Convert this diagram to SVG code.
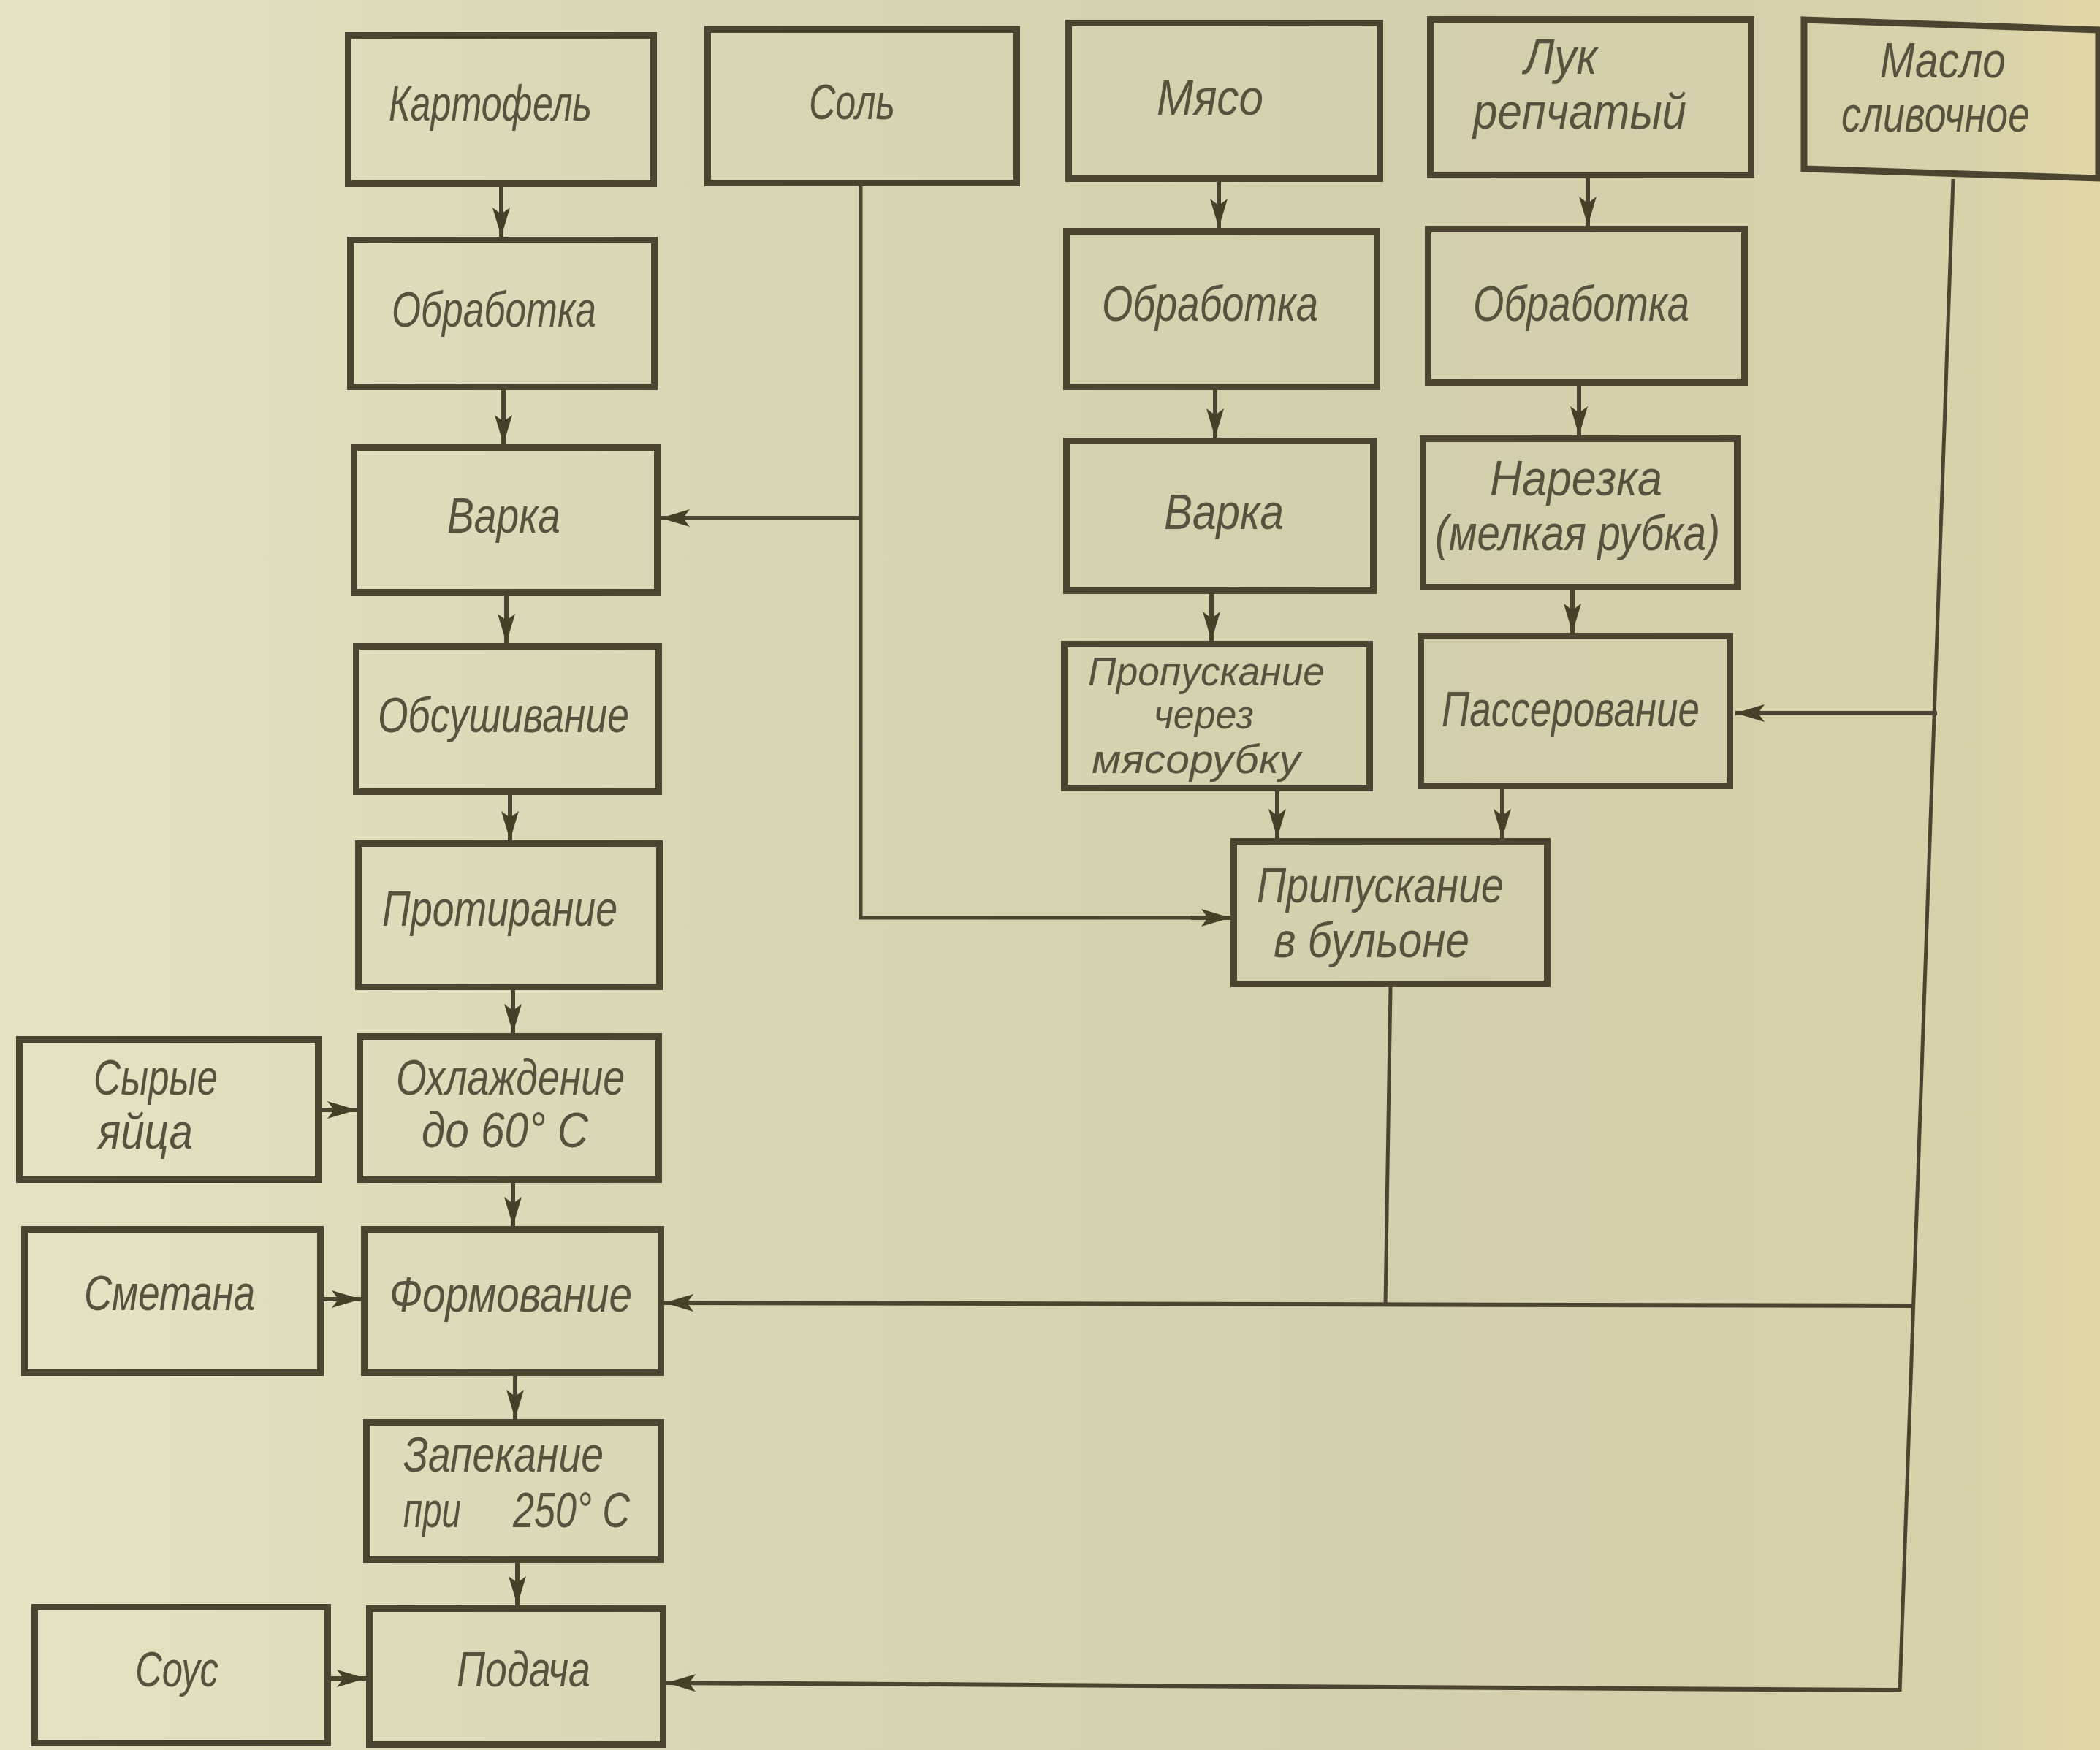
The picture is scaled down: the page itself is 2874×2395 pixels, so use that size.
<svg xmlns="http://www.w3.org/2000/svg" width="2874" height="2395" viewBox="0 0 2874 2395">
  <defs>
    <linearGradient id="paper" x1="0" y1="0" x2="1" y2="0">
      <stop offset="0" stop-color="#e6e3c4"/>
      <stop offset="0.3" stop-color="#dad7b6"/>
      <stop offset="0.7" stop-color="#d3cfac"/>
      <stop offset="0.94" stop-color="#d8d2ab"/>
      <stop offset="1" stop-color="#e4d7a6"/>
    </linearGradient>
    <marker id="ah" viewBox="0 0 40 26" refX="40" refY="13" markerWidth="40" markerHeight="26" markerUnits="userSpaceOnUse" orient="auto">
      <path d="M0,1 L40,13 L0,25 L9,13 Z" fill="#474029"/>
    </marker>
    <style>
      .box { fill: none; stroke: #4b4430; stroke-width: 9; stroke-linejoin: miter; }
      .lbl { font-family: "Liberation Sans", "DejaVu Sans", sans-serif; font-style: italic; font-size: 68px; fill: #57523e; }
      .tight { font-size: 56px; }
      .wire { fill: none; stroke: #4b4430; stroke-width: 5; }
      .flow { fill: none; stroke: #4b4430; stroke-width: 6; marker-end: url(#ah); }
    </style>
  </defs>

  <rect x="0" y="0" width="2874" height="2395" fill="url(#paper)"/>

  <!-- connectors -->
  <g id="connectors">
    <!-- potato column -->
    <path class="flow" d="M686,256 L686,324"/>
    <path class="flow" d="M689,534 L689,608"/>
    <path class="flow" d="M693,815 L693,880"/>
    <path class="flow" d="M698,1088 L698,1150"/>
    <path class="flow" d="M702,1355 L702,1414"/>
    <path class="flow" d="M702,1619 L702,1678"/>
    <path class="flow" d="M705,1883 L705,1942"/>
    <path class="flow" d="M708,2139 L708,2197"/>
    <!-- side inputs -->
    <path class="flow" d="M440,1519 L488,1519"/>
    <path class="flow" d="M443,1778 L494,1778"/>
    <path class="flow" d="M453,2297 L501,2297"/>
    <!-- meat column -->
    <path class="flow" d="M1668,249 L1668,312"/>
    <path class="flow" d="M1663,534 L1663,599"/>
    <path class="flow" d="M1658,813 L1658,877"/>
    <path class="flow" d="M1748,1083 L1748,1147"/>
    <!-- onion column -->
    <path class="flow" d="M2173,244 L2173,309"/>
    <path class="flow" d="M2161,528 L2161,596"/>
    <path class="flow" d="M2152,808 L2152,866"/>
    <path class="flow" d="M2056,1080 L2056,1147"/>
    <!-- salt -->
    <path class="wire" d="M1178,255 L1178,1256 L1640,1256"/>
    <path class="flow" d="M1630,1256 L1684,1256"/>
    <path class="flow" d="M1178,709 L904,709"/>
    <!-- butter trunk -->
    <path class="wire" d="M2673,245 L2600,2315"/>
    <path class="flow" d="M2651,976 L2375,976"/>
    <path class="flow" d="M2617,1787 L909,1783"/>
    <path class="flow" d="M2600,2313 L912,2303"/>
    <!-- broth to shaping -->
    <path class="wire" d="M1903,1351 L1896,1786"/>
  </g>

  <!-- potato column -->
  <g id="kartofel"><rect class="box" x="476.5" y="48.5" width="418" height="203"/><text class="lbl" x="532" y="165" textLength="278" lengthAdjust="spacingAndGlyphs">Картофель</text></g>
  <g id="obrabotka1"><rect class="box" x="479.5" y="328.5" width="416" height="201"/><text class="lbl" x="536" y="447" textLength="280" lengthAdjust="spacingAndGlyphs">Обработка</text></g>
  <g id="varka1"><rect class="box" x="484.5" y="612.5" width="415" height="198"/><text class="lbl" x="612" y="729" textLength="155" lengthAdjust="spacingAndGlyphs">Варка</text></g>
  <g id="obsushivanie"><rect class="box" x="487.5" y="884.5" width="414" height="199"/><text class="lbl" x="517" y="1002" textLength="344" lengthAdjust="spacingAndGlyphs">Обсушивание</text></g>
  <g id="protiranie"><rect class="box" x="490.5" y="1154.5" width="412" height="196"/><text class="lbl" x="523" y="1267" textLength="322" lengthAdjust="spacingAndGlyphs">Протирание</text></g>
  <g id="ohlazhdenie"><rect class="box" x="492.5" y="1418.5" width="409" height="196"/><text class="lbl" x="542" y="1498" textLength="313" lengthAdjust="spacingAndGlyphs">Охлаждение</text><text class="lbl" x="577" y="1570" textLength="228" lengthAdjust="spacingAndGlyphs">до 60° C</text></g>
  <g id="formovanie"><rect class="box" x="498.5" y="1682.5" width="406" height="196"/><text class="lbl" x="533" y="1795" textLength="332" lengthAdjust="spacingAndGlyphs">Формование</text></g>
  <g id="zapekanie"><rect class="box" x="501.5" y="1946.5" width="403" height="188"/><text class="lbl" x="552" y="2014" textLength="274" lengthAdjust="spacingAndGlyphs">Запекание</text><text class="lbl" x="552" y="2090" textLength="79" lengthAdjust="spacingAndGlyphs">при</text><text class="lbl" x="702" y="2090" textLength="160" lengthAdjust="spacingAndGlyphs">250° C</text></g>
  <g id="podacha"><rect class="box" x="505.5" y="2201.5" width="402" height="186"/><text class="lbl" x="625" y="2308" textLength="183" lengthAdjust="spacingAndGlyphs">Подача</text></g>

  <!-- side inputs -->
  <g id="syrye-yaitsa"><rect class="box" x="26.5" y="1422.5" width="409" height="192"/><text class="lbl" x="128" y="1498" textLength="170" lengthAdjust="spacingAndGlyphs">Сырые</text><text class="lbl" x="134" y="1572" textLength="130" lengthAdjust="spacingAndGlyphs">яйца</text></g>
  <g id="smetana"><rect class="box" x="33.5" y="1682.5" width="405" height="196"/><text class="lbl" x="115" y="1793" textLength="234" lengthAdjust="spacingAndGlyphs">Сметана</text></g>
  <g id="sous"><rect class="box" x="47.5" y="2199.5" width="401" height="186"/><text class="lbl" x="185" y="2308" textLength="114" lengthAdjust="spacingAndGlyphs">Соус</text></g>

  <!-- top inputs -->
  <g id="sol"><rect class="box" x="968.5" y="40.5" width="423" height="210"/><text class="lbl" x="1107" y="163" textLength="118" lengthAdjust="spacingAndGlyphs">Соль</text></g>
  <g id="myaso"><rect class="box" x="1462.5" y="31.5" width="426" height="213"/><text class="lbl" x="1583" y="157" textLength="146" lengthAdjust="spacingAndGlyphs">Мясо</text></g>
  <g id="luk"><rect class="box" x="1957.5" y="26.5" width="439" height="213"/><text class="lbl" x="2086" y="101" textLength="100" lengthAdjust="spacingAndGlyphs">Лук</text><text class="lbl" x="2016" y="176" textLength="292" lengthAdjust="spacingAndGlyphs">репчатый</text></g>
  <g id="maslo"><path class="box" d="M2469,27 L2872,41 L2872,244 L2469,231 Z"/><text class="lbl" x="2573" y="106" textLength="172" lengthAdjust="spacingAndGlyphs">Масло</text><text class="lbl" x="2520" y="180" textLength="258" lengthAdjust="spacingAndGlyphs">сливочное</text></g>

  <!-- meat column -->
  <g id="obrabotka2"><rect class="box" x="1459.5" y="316.5" width="425" height="213"/><text class="lbl" x="1508" y="439" textLength="296" lengthAdjust="spacingAndGlyphs">Обработка</text></g>
  <g id="varka2"><rect class="box" x="1459.5" y="603.5" width="420" height="205"/><text class="lbl" x="1593" y="724" textLength="164" lengthAdjust="spacingAndGlyphs">Варка</text></g>
  <g id="propuskanie"><rect class="box" x="1456.5" y="881.5" width="418" height="197"/><text class="lbl tight" x="1489" y="938" textLength="324" lengthAdjust="spacingAndGlyphs">Пропускание</text><text class="lbl tight" x="1579" y="997" textLength="137" lengthAdjust="spacingAndGlyphs">через</text><text class="lbl tight" x="1494" y="1058" textLength="286" lengthAdjust="spacingAndGlyphs">мясорубку</text></g>

  <!-- onion column -->
  <g id="obrabotka3"><rect class="box" x="1954.5" y="313.5" width="433" height="210"/><text class="lbl" x="2016" y="439" textLength="296" lengthAdjust="spacingAndGlyphs">Обработка</text></g>
  <g id="narezka"><rect class="box" x="1947.5" y="600.5" width="430" height="203"/><text class="lbl" x="2039" y="678" textLength="236" lengthAdjust="spacingAndGlyphs">Нарезка</text><text class="lbl" x="1964" y="753" textLength="390" lengthAdjust="spacingAndGlyphs">(мелкая рубка)</text></g>
  <g id="passerovanie"><rect class="box" x="1944.5" y="870.5" width="423" height="205"/><text class="lbl" x="1973" y="994" textLength="353" lengthAdjust="spacingAndGlyphs">Пассерование</text></g>

  <!-- broth -->
  <g id="pripuskanie"><rect class="box" x="1688.5" y="1151.5" width="429" height="195"/><text class="lbl" x="1720" y="1235" textLength="338" lengthAdjust="spacingAndGlyphs">Припускание</text><text class="lbl" x="1743" y="1310" textLength="268" lengthAdjust="spacingAndGlyphs">в бульоне</text></g>
</svg>
